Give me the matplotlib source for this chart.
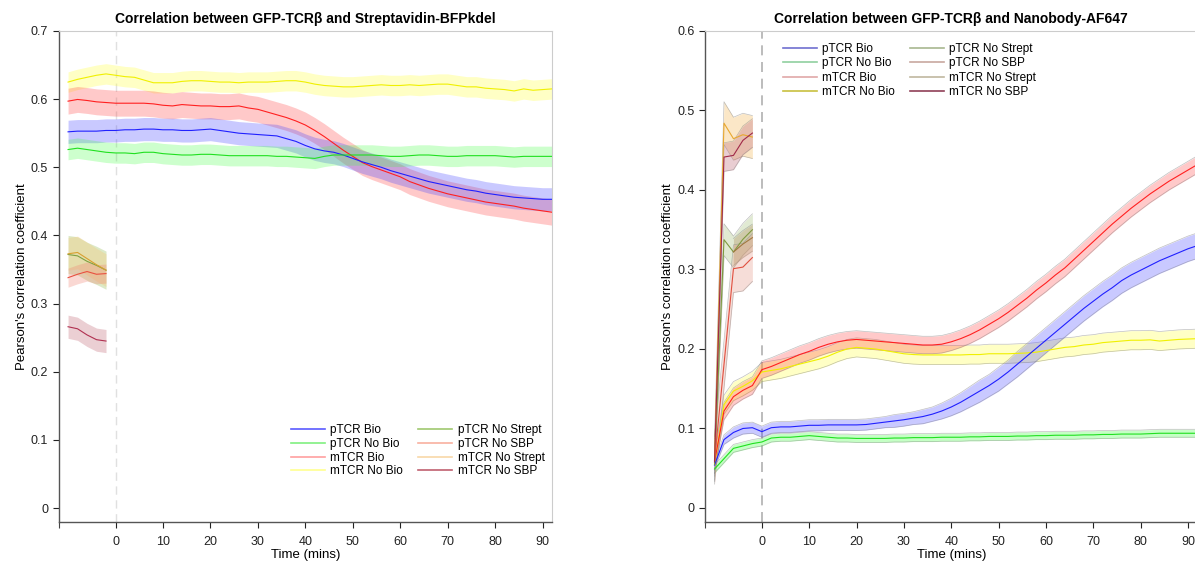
import numpy as np
import matplotlib
matplotlib.use("Agg")
import matplotlib.pyplot as plt
from matplotlib.lines import Line2D

plt.rcParams['font.family'] = ['Liberation Sans', 'DejaVu Sans']

# ---------------- data ----------------
time_main = list(range(-10, 93, 2))
time_pre = [-10, -8, -6, -4, -2]

# Left panel (Streptavidin-BFPkdel)
L_pbio = [0.552, 0.553, 0.553, 0.553, 0.554, 0.554, 0.555, 0.555, 0.556, 0.556, 0.555, 0.555, 0.554,
          0.554, 0.555, 0.556, 0.554, 0.552, 0.550, 0.549, 0.548, 0.547, 0.546, 0.542, 0.538, 0.532,
          0.527, 0.524, 0.522, 0.518, 0.513, 0.508, 0.504, 0.500, 0.495, 0.491, 0.487, 0.483, 0.479,
          0.476, 0.473, 0.470, 0.467, 0.465, 0.462, 0.460, 0.458, 0.456, 0.455, 0.454, 0.453, 0.453]
L_pnobio = [0.526, 0.528, 0.526, 0.524, 0.522, 0.521, 0.521, 0.520, 0.522, 0.522, 0.520, 0.519, 0.518,
            0.518, 0.519, 0.519, 0.518, 0.517, 0.517, 0.517, 0.517, 0.517, 0.516, 0.516, 0.515, 0.514,
            0.513, 0.516, 0.518, 0.518, 0.518, 0.518, 0.518, 0.517, 0.516, 0.516, 0.517, 0.518, 0.518,
            0.517, 0.516, 0.516, 0.517, 0.517, 0.517, 0.517, 0.516, 0.515, 0.516, 0.516, 0.516, 0.516]
L_mbio = [0.597, 0.5995, 0.598, 0.596, 0.595, 0.594, 0.594, 0.594, 0.594, 0.593, 0.591, 0.590, 0.592,
          0.591, 0.590, 0.590, 0.589, 0.589, 0.590, 0.587, 0.585, 0.581, 0.577, 0.573, 0.568, 0.562,
          0.554, 0.545, 0.535, 0.525, 0.516, 0.507, 0.501, 0.496, 0.491, 0.486, 0.479, 0.474, 0.469,
          0.465, 0.461, 0.458, 0.455, 0.452, 0.449, 0.447, 0.445, 0.443, 0.440, 0.438, 0.436, 0.434]
L_mnobio = [0.625, 0.629, 0.632, 0.635, 0.637, 0.635, 0.633, 0.632, 0.628, 0.624, 0.624, 0.624, 0.626,
            0.627, 0.627, 0.626, 0.625, 0.625, 0.624, 0.625, 0.625, 0.625, 0.626, 0.627, 0.627, 0.625,
            0.622, 0.620, 0.619, 0.618, 0.618, 0.619, 0.620, 0.621, 0.620, 0.620, 0.621, 0.620, 0.621,
            0.622, 0.622, 0.620, 0.618, 0.618, 0.616, 0.615, 0.614, 0.612, 0.615, 0.613, 0.614, 0.615]
L_main_err = {'pbio': 0.017, 'pnobio': 0.015, 'mbio': 0.019, 'mnobio': 0.015}

L_pnostrept = [0.372, 0.370, 0.362, 0.356, 0.349]
L_pnosbp = [0.338, 0.343, 0.347, 0.343, 0.344]
L_mnostrept = [0.373, 0.375, 0.366, 0.357, 0.349]
L_mnosbp = [0.266, 0.263, 0.254, 0.247, 0.245]
L_pre_err = {'pnostrept': 0.028, 'pnosbp': 0.014, 'mnostrept': 0.024, 'mnosbp': 0.017}

# Right panel (Nanobody-AF647)
R_pbio = [0.054, 0.086, 0.095, 0.100, 0.101, 0.096, 0.101, 0.102, 0.102, 0.103, 0.104, 0.104, 0.1045,
          0.1045, 0.1045, 0.1045, 0.105, 0.1065, 0.108, 0.1095, 0.111, 0.113, 0.115, 0.118, 0.122,
          0.127, 0.133, 0.140, 0.147, 0.154, 0.162, 0.171, 0.181, 0.191, 0.201, 0.211, 0.221, 0.231,
          0.241, 0.251, 0.260, 0.269, 0.277, 0.286, 0.293, 0.299, 0.305, 0.311, 0.316, 0.321, 0.326, 0.330]
R_pbio_err = [0.004, 0.006, 0.007, 0.007, 0.007, 0.007, 0.007, 0.007, 0.007, 0.007, 0.007, 0.007, 0.007,
              0.007, 0.007, 0.007, 0.007, 0.007, 0.007, 0.008, 0.008, 0.008, 0.009, 0.009, 0.010,
              0.011, 0.012, 0.013, 0.014, 0.014, 0.015, 0.015, 0.016, 0.016, 0.016, 0.016, 0.016, 0.016,
              0.016, 0.016, 0.016, 0.016, 0.016, 0.016, 0.016, 0.016, 0.016, 0.016, 0.016, 0.016, 0.016, 0.016]
R_pnobio = [0.049, 0.062, 0.075, 0.078, 0.081, 0.083, 0.088, 0.089, 0.089, 0.090, 0.091, 0.090, 0.089,
            0.088, 0.088, 0.0875, 0.0875, 0.0875, 0.0875, 0.088, 0.088, 0.0885, 0.0885, 0.0885, 0.089,
            0.089, 0.089, 0.0895, 0.0895, 0.090, 0.090, 0.090, 0.0905, 0.0905, 0.091, 0.091, 0.0915,
            0.0915, 0.0915, 0.092, 0.092, 0.0925, 0.0925, 0.093, 0.093, 0.093, 0.0935, 0.094, 0.094,
            0.094, 0.094, 0.094]
R_mbio = [0.058, 0.122, 0.140, 0.148, 0.154, 0.174, 0.178, 0.183, 0.188, 0.193, 0.197, 0.202, 0.206,
          0.209, 0.211, 0.212, 0.211, 0.210, 0.209, 0.208, 0.207, 0.206, 0.205, 0.205, 0.206, 0.209,
          0.213, 0.218, 0.224, 0.231, 0.238, 0.246, 0.255, 0.264, 0.274, 0.283, 0.293, 0.302, 0.313,
          0.324, 0.335, 0.346, 0.357, 0.367, 0.377, 0.386, 0.395, 0.403, 0.411, 0.418, 0.425, 0.432]
R_mnobio = [0.055, 0.130, 0.147, 0.153, 0.160, 0.171, 0.173, 0.175, 0.178, 0.181, 0.184, 0.187, 0.191,
            0.196, 0.200, 0.202, 0.201, 0.200, 0.198, 0.196, 0.194, 0.193, 0.1925, 0.1925, 0.1925,
            0.1925, 0.1925, 0.193, 0.193, 0.194, 0.194, 0.194, 0.1945, 0.195, 0.196, 0.198, 0.200,
            0.202, 0.203, 0.205, 0.206, 0.208, 0.209, 0.210, 0.211, 0.211, 0.2115, 0.210, 0.211, 0.212,
            0.2125, 0.213]
R_main_err = {'pnobio': 0.005, 'mbio': 0.011, 'mnobio': 0.012}

R_pnostrept = [0.055, 0.3375, 0.322, 0.338, 0.350]
R_extra_time = [-6, -4, -2]
R_extra = [0.322, 0.332, 0.340]
R_pnosbp_time = [-10, -6, -4, -2]
R_pnosbp = [0.060, 0.301, 0.303, 0.315]
R_mnostrept = [0.060, 0.484, 0.4645, 0.4695, 0.4666]
R_mnosbp = [0.058, 0.4414, 0.4435, 0.4624, 0.4716]
R_pre_err = {'pnostrept': 0.02, 'extra': 0.017, 'pnosbp': 0.03, 'mnostrept': 0.027, 'mnosbp': 0.018}

labels = ['pTCR Bio', 'pTCR No Bio', 'mTCR Bio', 'mTCR No Bio',
          'pTCR No Strept', 'pTCR No SBP', 'mTCR No Strept', 'mTCR No SBP']
L_legend_colors = ['#5a5aff', '#80f080', '#ffa0a0', '#ffff90',
                   '#a0c870', '#f8b0a0', '#f8d8a8', '#c06070']
R_legend_colors = ['#7070d0', '#90d0a0', '#e0a8a8', '#c8c040',
                   '#a8b890', '#c8a8a0', '#c0b8a0', '#904058']

# ---------------- plotting ----------------
fig = plt.figure(figsize=(11.95, 5.64), dpi=100)
axL = fig.add_axes([0.049, 0.0745, 0.413, 0.8706])
axR = fig.add_axes([0.590, 0.0745, 0.412, 0.8706])


def band(ax, t, y, err, line_c, fill_c, alpha, edge=None, lw=0.8):
    t = np.asarray(t, float)
    y = np.asarray(y, float)
    e = np.asarray(err, float) * np.ones_like(y)
    ax.fill_between(t, y - e, y + e, color=fill_c, alpha=alpha, linewidth=0, zorder=2)
    if edge is not None:
        ax.plot(t, y - e, color=edge, lw=0.5, alpha=0.5, zorder=2)
        ax.plot(t, y + e, color=edge, lw=0.5, alpha=0.5, zorder=2)
    ax.plot(t, y, color=line_c, lw=lw, zorder=3)


# Left
band(axL, time_main, L_mnobio, L_main_err['mnobio'], '#f0f000', '#ffff40', 0.3)
band(axL, time_main, L_mbio, L_main_err['mbio'], '#ff2020', '#ff4040', 0.28)
band(axL, time_main, L_pbio, L_main_err['pbio'], '#2020ff', '#4040ff', 0.28)
band(axL, time_main, L_pnobio, L_main_err['pnobio'], '#20e020', '#40ff40', 0.26)
band(axL, time_pre, L_pnostrept, L_pre_err['pnostrept'], '#7fa040', '#9dc060', 0.35)
band(axL, time_pre, L_mnostrept, L_pre_err['mnostrept'], '#d8a030', '#f8c878', 0.35)
band(axL, time_pre, L_pnosbp, L_pre_err['pnosbp'], '#e85040', '#f08070', 0.3)
band(axL, time_pre, L_mnosbp, L_pre_err['mnosbp'], '#b03050', '#c06070', 0.3)
axL.axvline(0, color='#e0e0e0', lw=1.0, ls=(0, (6, 4)), zorder=1)

# Right
band(axR, time_main, R_mnobio, R_main_err['mnobio'], '#f0f000', '#ffff40', 0.3, edge='#808080')
band(axR, time_main, R_mbio, R_main_err['mbio'], '#ff2020', '#ff4040', 0.28, edge='#808080')
band(axR, time_main, R_pbio, R_pbio_err, '#2020ff', '#4040ff', 0.28, edge='#808080')
band(axR, time_main, R_pnobio, R_main_err['pnobio'], '#20e020', '#40ff40', 0.3, edge='#808080')
band(axR, time_pre, R_pnostrept, R_pre_err['pnostrept'], '#7f9a40', '#9dba70', 0.3, edge='#808080')
band(axR, R_extra_time, R_extra, R_pre_err['extra'], '#a07840', '#b09060', 0.35, edge='#808080')
band(axR, R_pnosbp_time, R_pnosbp, R_pre_err['pnosbp'], '#e05040', '#e8a090', 0.35, edge='#808080')
band(axR, time_pre, R_mnostrept, R_pre_err['mnostrept'], '#e8a830', '#f8d090', 0.5, edge='#808080')
band(axR, time_pre, R_mnosbp, R_pre_err['mnosbp'], '#a02848', '#c07080', 0.35, edge='#808080')
axR.axvline(0, color='#b0b0b0', lw=1.2, ls=(0, (6, 4)), zorder=1)

for ax, ylim, yticks, title in [
        (axL, (-0.0205, 0.7), [0, 0.1, 0.2, 0.3, 0.4, 0.5, 0.6, 0.7],
         'Correlation between GFP-TCR\u03b2 and Streptavidin-BFPkdel'),
        (axR, (-0.0176, 0.6), [0, 0.1, 0.2, 0.3, 0.4, 0.5, 0.6],
         'Correlation between GFP-TCR\u03b2 and Nanobody-AF647')]:
    ax.set_xlim(-12, 92)
    ax.set_ylim(*ylim)
    ax.set_yticks(yticks)
    ax.set_yticklabels(['0'] + ['%.1f' % v for v in yticks[1:]])
    ax.set_xticks(list(range(0, 91, 10)))
    ax.set_xticks([-12], minor=True)
    ax.tick_params(axis='both', direction='out', labelsize=9, colors='#222222', length=4, width=0.8)
    ax.tick_params(axis='x', pad=6)
    ax.tick_params(axis='x', which='minor', length=4, width=0.8, color='#444444')
    for s in ['left', 'bottom']:
        ax.spines[s].set_color('#555555')
        ax.spines[s].set_linewidth(1.0)
    for s in ['top', 'right']:
        ax.spines[s].set_color('#cccccc')
        ax.spines[s].set_linewidth(0.8)
    ax.set_xlabel('Time (mins)', fontsize=9.5, labelpad=1)
    ax.set_ylabel("Pearson's correlation coefficient", fontsize=9.5, labelpad=2)
    ax.set_title(title, fontsize=10, fontweight='bold', pad=6)


def make_legend(ax, colors, loc, anchor, spacing):
    handles = [Line2D([0], [0], color=c, lw=1.2) for c in colors]
    ax.legend(handles, labels, loc=loc, bbox_to_anchor=anchor, ncol=2, frameon=False,
              fontsize=8.5, handlelength=2.9, handletextpad=0.45, labelspacing=spacing,
              columnspacing=1.25, borderaxespad=0)


make_legend(axL, L_legend_colors, 'lower left', (0.461, 0.081), 0.15)
make_legend(axR, R_legend_colors, 'upper left', (0.148, 0.985), 0.2)

fig.savefig('out.png', dpi=100)
